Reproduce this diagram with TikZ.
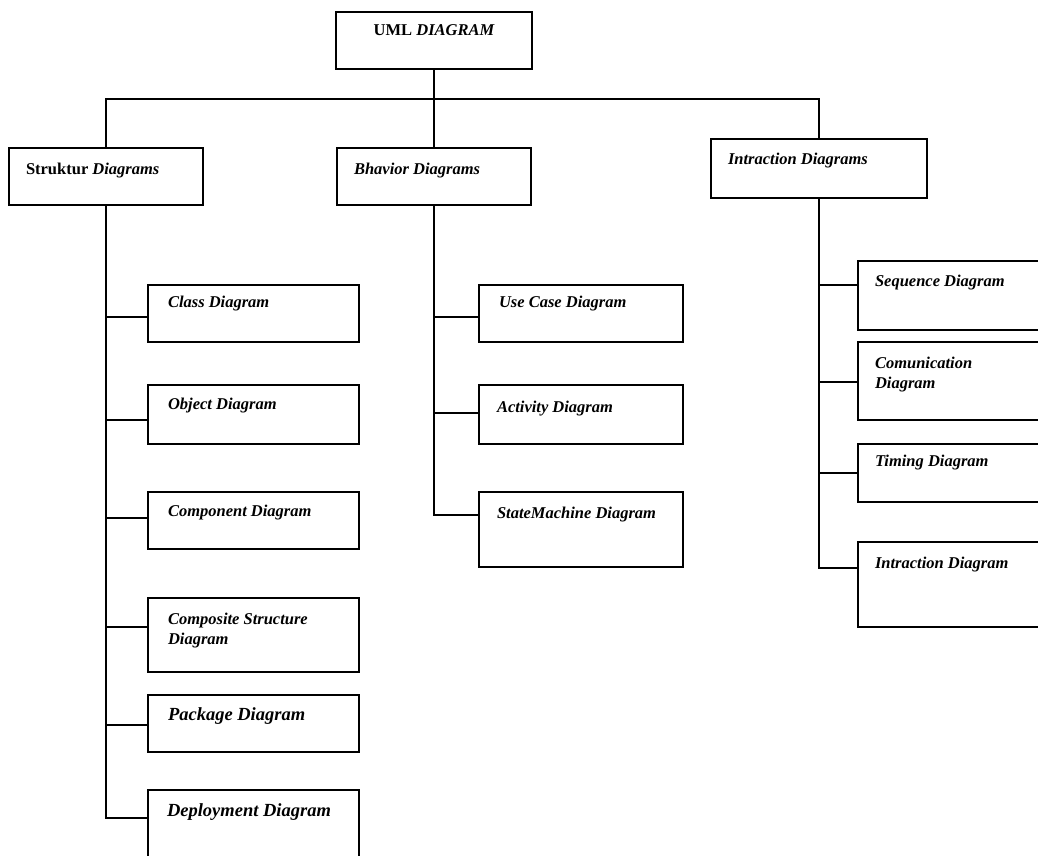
\documentclass[tikz,border=0pt]{standalone}
\usepackage{fontspec}
\setmainfont{Liberation Serif}
\begin{document}
\begin{tikzpicture}[x=1pt, y=-1pt, outer sep=0pt, line width=1.7pt]

\tikzstyle{box}=[rectangle,draw,anchor=north west,inner sep=0pt]
\tikzstyle{lbl}=[anchor=north west,inner sep=0pt,align=left,font=\fontsize{16.5}{20}\selectfont\bfseries\itshape]
\tikzstyle{biglbl}=[lbl,font=\fontsize{18.5}{22}\selectfont\bfseries\itshape]

\clip (0,0) rectangle (1038,855);

% top level
\node[box,minimum width=196pt,minimum height=57pt,label={[lbl,anchor=north,yshift=-13pt]north:{\upshape UML} DIAGRAM}] (uml) at (336,12) {};
\node[box,minimum width=194pt,minimum height=57pt,label={[lbl,xshift=17pt,yshift=-15pt]north west:{\upshape Struktur} Diagrams}] (struktur) at (9,148) {};
\node[box,minimum width=194pt,minimum height=57pt,label={[lbl,xshift=17pt,yshift=-15pt]north west:Bhavior Diagrams}] (bhavior) at (337,148) {};
\node[box,minimum width=216pt,minimum height=59pt,label={[lbl,xshift=17pt,yshift=-14pt]north west:Intraction Diagrams}] (intraction) at (711,139) {};

% structure diagrams
\node[box,minimum width=211pt,minimum height=57pt,label={[lbl,xshift=20pt,yshift=-11pt]north west:Class Diagram}] (class) at (148,285) {};
\node[box,minimum width=211pt,minimum height=59pt,label={[lbl,xshift=20pt,yshift=-13pt]north west:Object Diagram}] (object) at (148,385) {};
\node[box,minimum width=211pt,minimum height=57pt,label={[lbl,xshift=20pt,yshift=-13pt]north west:Component Diagram}] (component) at (148,492) {};
\node[box,minimum width=211pt,minimum height=74pt,label={[lbl,xshift=20pt,yshift=-15pt]north west:{Composite Structure\\Diagram}}] (composite) at (148,598) {};
\node[box,minimum width=211pt,minimum height=57pt,label={[biglbl,xshift=20pt,yshift=-13pt]north west:Package Diagram}] (package) at (148,695) {};
\node[box,minimum width=211pt,minimum height=80pt,label={[biglbl,xshift=19pt,yshift=-14pt]north west:Deployment Diagram}] (deployment) at (148,790) {};

% behavior diagrams
\node[box,minimum width=204pt,minimum height=57pt,label={[lbl,xshift=20pt,yshift=-11pt]north west:Use Case Diagram}] (usecase) at (479,285) {};
\node[box,minimum width=204pt,minimum height=59pt,label={[lbl,xshift=18pt,yshift=-16pt]north west:Activity Diagram}] (activity) at (479,385) {};
\node[box,minimum width=204pt,minimum height=75pt,label={[lbl,xshift=18pt,yshift=-15pt]north west:StateMachine Diagram}] (statemachine) at (479,492) {};

% interaction diagrams
\node[box,minimum width=200pt,minimum height=69pt,label={[lbl,xshift=17pt,yshift=-14pt]north west:Sequence Diagram}] (sequence) at (858,261) {};
\node[box,minimum width=200pt,minimum height=78pt,label={[lbl,xshift=17pt,yshift=-15pt]north west:{Comunication\\Diagram}}] (comunication) at (858,342) {};
\node[box,minimum width=200pt,minimum height=58pt,label={[lbl,xshift=17pt,yshift=-11pt]north west:Timing Diagram}] (timing) at (858,444) {};
\node[box,minimum width=200pt,minimum height=85pt,label={[lbl,xshift=17pt,yshift=-15pt]north west:Intraction Diagram}] (intractiondiag) at (858,542) {};

% connectors
\coordinate (bus) at (434,99);
\draw (uml.south) -- (bhavior.north);
\draw (struktur.north) |- (bus) -| (intraction.north);

\foreach \c/\d in {class/32,object/35,component/26,composite/29,package/30,deployment/28}
  \draw (struktur.south) |- ([yshift=-\d pt]\c.north west);
\foreach \c/\d in {usecase/32,activity/28,statemachine/23}
  \draw (bhavior.south) |- ([yshift=-\d pt]\c.north west);
\foreach \c/\d in {sequence/24,comunication/40,timing/29,intractiondiag/26}
  \draw (intraction.south) |- ([yshift=-\d pt]\c.north west);
\end{tikzpicture}
\end{document}
